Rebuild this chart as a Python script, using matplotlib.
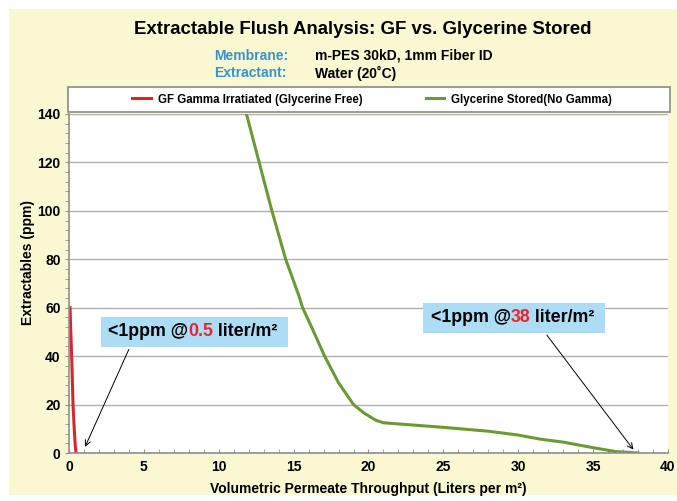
import matplotlib
matplotlib.use('Agg')
import matplotlib.pyplot as plt
from matplotlib.patches import Rectangle
from matplotlib.ticker import MultipleLocator

## data
gf_x = [0.07, 0.12, 0.18, 0.27, 0.35, 0.42, 0.47]
gf_y = [60, 50, 40, 20, 10, 3, 0]
gly_x = [11.85, 12.7, 13.55, 14.47, 15.35, 15.6, 16.2, 17.07, 18.0, 19.0, 19.7, 20.5, 21.0,
         22.0, 25.0, 28.0, 30.0, 31.5, 33.0, 35.0, 36.5, 38.0]
gly_y = [140, 120, 100, 80, 65, 60, 52, 40, 29, 20, 16.5, 13.5, 12.5,
         12.0, 10.6, 9.0, 7.4, 5.7, 4.5, 2.2, 0.6, 0]
series_names = ['GF Gamma Irratiated (Glycerine Free)', 'Glycerine Stored(No Gamma)']
series_colors = ['#D02A30', '#6B9A34']

plt.rcParams['font.family'] = ['Liberation Sans', 'DejaVu Sans']
plt.rcParams['font.weight'] = 'bold'

fig = plt.figure(figsize=(6.77, 5.01), dpi=100)
fig.patch.set_facecolor('white')
# yellow panel behind everything
fig.patches.append(Rectangle((9 / 677, 6 / 501), 668 / 677, 486 / 501, transform=fig.transFigure,
                             facecolor='#FAF8D3', edgecolor='none', zorder=-10))

ax = fig.add_axes([0.1019, 0.0958, 0.8848, 0.6767])
ax.set_facecolor('white')

ax.plot(gf_x, gf_y, color=series_colors[0], lw=2.2, label=series_names[0])
ax.plot(gly_x, gly_y, color=series_colors[1], lw=2.2, label=series_names[1])

ax.set_xlim(0, 40)
ax.set_ylim(0, 140)
ax.xaxis.set_major_locator(MultipleLocator(5))
ax.xaxis.set_minor_locator(MultipleLocator(1))
ax.yaxis.set_major_locator(MultipleLocator(20))
ax.yaxis.set_minor_locator(MultipleLocator(4))
ax.grid(axis='y', which='major', color='#B0B0B0', lw=1)
ax.set_axisbelow(True)
ax.tick_params(which='both', color='#909090', labelsize=10, length=3)
ax.tick_params(axis='x', which='both', direction='in', pad=5)
ax.tick_params(axis='y', which='both', direction='out', pad=3)
for s in ['top', 'right']:
    ax.spines[s].set_visible(False)
for s in ['left', 'bottom']:
    ax.spines[s].set_color('#909090')
    ax.spines[s].set_linewidth(1.2)
for lab in ax.get_xticklabels() + ax.get_yticklabels():
    lab.set_fontweight('bold')

ax.set_ylabel('Extractables (ppm)', fontsize=10, fontweight='bold')
ax.yaxis.set_label_coords(-0.056, 0.563)
ax.set_xlabel('Volumetric Permeate Throughput (Liters per m²)', fontsize=10,
              fontweight='bold', labelpad=6)

# legend box across the top
fig.patches.append(Rectangle((68 / 677, 1 - 112 / 501), 602 / 677, 25 / 501, transform=fig.transFigure,
                             facecolor='white', edgecolor='#8A8A8A', lw=1.2, zorder=1))
leg = fig.legend(loc='center', bbox_to_anchor=(372 / 677, 1 - 99.5 / 501), ncol=2, frameon=False,
                 fontsize=8.3, handlelength=1.6, handletextpad=0.6, columnspacing=5.5)
for t in leg.get_texts():
    t.set_fontweight('bold')

# titles
fig.text(363 / 677, 1 - 30 / 501, 'Extractable Flush Analysis: GF vs. Glycerine Stored',
         ha='center', va='center', fontsize=13.4, fontweight='bold')
fig.text(214 / 677, 1 - 56 / 501, 'Membrane:', color='#3A92C8', fontsize=10, va='center')
fig.text(315 / 677, 1 - 56 / 501, 'm-PES 30kD, 1mm Fiber ID', fontsize=10, va='center')
fig.text(214 / 677, 1 - 73 / 501, 'Extractant:', color='#3A92C8', fontsize=10, va='center')
fig.text(315 / 677, 1 - 73 / 501, 'Water (20˚C)', fontsize=10, va='center')


def callout(x0, x1, y0, y1, value, tip, tail):
    ax.add_patch(Rectangle((x0, y0), x1 - x0, y1 - y0, facecolor='#ACDDF4', edgecolor='none', zorder=3))
    ax.annotate('', xy=tip, xytext=tail,
                arrowprops=dict(arrowstyle='->', color='black', lw=0.7), zorder=4)
    t1 = ax.text(x0 + 0.04 * (x1 - x0), (y0 + y1) / 2, '<1ppm @', fontsize=12.8,
                 fontweight='bold', va='center', ha='left', zorder=5)
    t2 = ax.annotate(value, xy=(1, 0), xycoords=t1, va='bottom', ha='left', fontsize=12.8,
                     fontweight='bold', color='#E8262B', zorder=5)
    ax.annotate(' liter/m²', xy=(1, 0), xycoords=t2, va='bottom', ha='left', fontsize=12.8,
                fontweight='bold', zorder=5)


callout(2.13, 14.6, 43.8, 56.2, '0.5', (1.0, 1.5), (4.07, 43.8))
callout(23.67, 35.8, 49.6, 62.0, '38', (37.8, 0.5), (31.8, 49.6))

fig.savefig('out.png', dpi=100)
